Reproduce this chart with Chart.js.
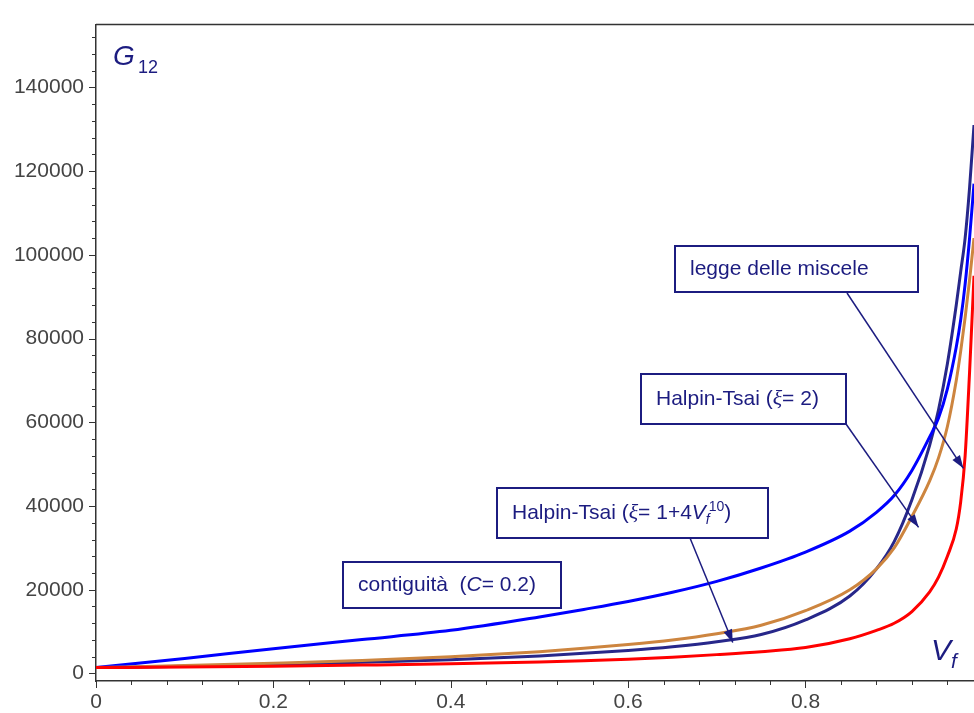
<!DOCTYPE html>
<html>
<head>
<meta charset="utf-8">
<script src="https://cdn.jsdelivr.net/npm/chart.js@4.4.1/dist/chart.umd.min.js"></script>
<style>
  html, body { margin: 0; padding: 0; background: #fff; }
  #wrap { width: 974px; height: 713px; }
</style>
</head>
<body>
<div id="wrap"><canvas id="chart" width="974" height="713"></canvas></div>
<script>
// ------------------------------------------------------------
// G12 in funzione di Vf — quattro modelli a confronto
// ------------------------------------------------------------

// frazione volumetrica di fibra (ascisse comuni)
const vf = [0, 0.1, 0.2, 0.3, 0.4, 0.5, 0.55, 0.6, 0.65, 0.7, 0.75, 0.8, 0.85, 0.88,
            0.9, 0.92, 0.94, 0.95, 0.96, 0.97, 0.975, 0.98, 0.985, 0.99];

// legge delle miscele (rosso)
const gMiscele = [1400, 1550, 1750, 2000, 2300, 2750, 3050, 3400, 3900, 4500, 5200, 6200, 8300, 10300,
                  12000, 14800, 19500, 23000, 28000, 34500, 41000, 52000, 72000, 95000];

// contiguità C = 0.2 (blu)
const gContiguita = [1400, 3600, 5900, 8100, 10300, 13500, 15300, 17200, 19400, 22000, 25200, 29000, 34000, 38500,
                     42500, 48500, 56500, 61000, 68000, 78000, 84500, 93000, 104000, 117000];

// Halpin-Tsai xi = 2 (marrone chiaro)
const gHalpin2 = [1400, 1900, 2450, 3100, 4000, 5200, 6000, 6900, 8000, 9500, 11500, 15000, 20000, 25000,
                  30000, 37500, 46000, 51500, 59000, 70000, 77000, 85000, 94000, 104000];

// Halpin-Tsai xi = 1 + 4 Vf^10 (blu scuro)
const gHalpinVar = [1400, 1700, 2100, 2650, 3300, 4200, 4800, 5500, 6400, 7600, 9300, 12800, 18500, 25000,
                    31500, 41500, 54500, 63000, 74000, 88000, 96000, 104000, 116000, 131000];

// etichette degli assi
const xTickLabels = [0, 0.2, 0.4, 0.6, 0.8];
const yTickLabels = [0, 20000, 40000, 60000, 80000, 100000, 120000, 140000];
const X_MINOR = 0.04;
const Y_MINOR = 4000;

const NAVY = '#1c1c80';
const TXT  = '21px "Liberation Sans", Arial, sans-serif';
const ITA  = 'italic 21px "Liberation Sans", Arial, sans-serif';
const XI   = 'italic 22px "Liberation Serif", serif';
const SMALL = 'italic 14px "Liberation Sans", Arial, sans-serif';
const SUP  = '14px "Liberation Sans", Arial, sans-serif';

// riquadri di commento: [x, y, w, h] in pixel, punta della freccia in coordinate dati
const callouts = [
  { box: [675, 246, 243, 46], from: [847, 293], to: [0.978, 49000],
    parts: [['legge delle miscele', TXT]] },
  { box: [641, 374, 205, 50], from: [846, 424], to: [0.9275, 34900],
    parts: [['Halpin-Tsai (', TXT], ['\u03be', XI], ['= 2)', TXT]] },
  { box: [497, 488, 271, 50], from: [690, 538], to: [0.718, 7400],
    parts: [['Halpin-Tsai (', TXT], ['\u03be', XI], ['= 1+4', TXT], ['V', ITA],
            ['f', SMALL, 5, -1], ['10', SUP, -8, 0], [')', TXT]] },
  { box: [343, 562, 218, 46], from: null, to: null,
    parts: [['contiguit\u00e0  (', TXT], ['C', ITA], ['= 0.2)', TXT]] },
];

function drawParts(ctx, parts, x, y) {
  parts.forEach(([t, font, dy = 0, dx = 0]) => {
    ctx.font = font;
    ctx.fillText(t, x, y + dy);
    x += ctx.measureText(t).width + dx;
  });
}

function drawArrow(ctx, x1, y1, x2, y2) {
  ctx.beginPath();
  ctx.moveTo(x1, y1);
  ctx.lineTo(x2, y2);
  ctx.stroke();
  const a = Math.atan2(y2 - y1, x2 - x1), L = 13, W = 4.5;
  ctx.beginPath();
  ctx.moveTo(x2, y2);
  ctx.lineTo(x2 - L * Math.cos(a) + W * Math.sin(a), y2 - L * Math.sin(a) - W * Math.cos(a));
  ctx.lineTo(x2 - L * Math.cos(a) - W * Math.sin(a), y2 - L * Math.sin(a) + W * Math.cos(a));
  ctx.closePath();
  ctx.fill();
}

const decorPlugin = {
  id: 'decor',
  afterDraw(chart) {
    const { ctx, chartArea: a, scales: { x, y } } = chart;
    ctx.save();

    // cornice superiore
    ctx.strokeStyle = '#333';
    ctx.lineWidth = 1.5;
    ctx.beginPath();
    ctx.moveTo(a.left, a.top);
    ctx.lineTo(a.right, a.top);
    ctx.stroke();

    // tacche asse x (maggiori ogni 0.2, minori ogni 0.04)
    ctx.lineWidth = 1;
    for (let i = 0; i * X_MINOR <= x.max + 1e-9; i++) {
      const px = Math.round(x.getPixelForValue(i * X_MINOR)) + 0.5;
      const len = i % 5 === 0 ? 7 : 4;
      ctx.beginPath();
      ctx.moveTo(px, a.bottom);
      ctx.lineTo(px, a.bottom + len);
      ctx.stroke();
    }
    // tacche asse y (maggiori ogni 20000, minori ogni 4000)
    for (let i = 0; i * Y_MINOR <= y.max; i++) {
      const py = Math.round(y.getPixelForValue(i * Y_MINOR)) + 0.5;
      const len = i % 5 === 0 ? 7 : 4;
      ctx.beginPath();
      ctx.moveTo(a.left - len, py);
      ctx.lineTo(a.left, py);
      ctx.stroke();
    }

    // titoli degli assi
    ctx.fillStyle = NAVY;
    ctx.textBaseline = 'alphabetic';
    ctx.font = 'italic 28px "Liberation Sans", Arial, sans-serif';
    ctx.fillText('G', 113, 65);
    ctx.font = '18px "Liberation Sans", Arial, sans-serif';
    ctx.fillText('12', 138, 73);
    ctx.font = 'italic 30px "Liberation Sans", Arial, sans-serif';
    ctx.fillText('V', 931, 660);
    ctx.font = 'italic 21px "Liberation Sans", Arial, sans-serif';
    ctx.fillText('f', 951, 668);

    // riquadri e frecce
    ctx.strokeStyle = NAVY;
    callouts.forEach((c) => {
      const [bx, by, bw, bh] = c.box;
      ctx.fillStyle = '#fff';
      ctx.fillRect(bx, by, bw, bh);
      ctx.fillStyle = NAVY;
      ctx.lineWidth = 2;
      ctx.strokeRect(bx, by, bw, bh);
      drawParts(ctx, c.parts, bx + 15, by + bh / 2 + 6);
      if (c.from) {
        ctx.lineWidth = 1.5;
        drawArrow(ctx, c.from[0], c.from[1], x.getPixelForValue(c.to[0]), y.getPixelForValue(c.to[1]));
      }
    });

    ctx.restore();
  },
};

const toPoints = (ys) => vf.map((v, i) => ({ x: v, y: ys[i] }));

const tickFont = { family: '"Liberation Sans", Arial, sans-serif', size: 21 };

new Chart(document.getElementById('chart'), {
  type: 'line',
  data: {
    datasets: [
      { label: 'legge delle miscele', data: toPoints(gMiscele), borderColor: '#ff0000' },
      { label: 'Halpin-Tsai (xi = 2)', data: toPoints(gHalpin2), borderColor: '#cd853f' },
      { label: 'contiguita (C = 0.2)', data: toPoints(gContiguita), borderColor: '#0000ff' },
      { label: 'Halpin-Tsai (xi = 1+4Vf^10)', data: toPoints(gHalpinVar), borderColor: '#27278a' },
    ],
  },
  options: {
    responsive: false,
    animation: false,
    layout: { padding: { top: 7, right: 0, bottom: 0, left: 0 } },
    elements: {
      point: { radius: 0 },
      line: { borderWidth: 3, cubicInterpolationMode: 'monotone', fill: false },
    },
    plugins: {
      legend: { display: false },
      tooltip: { enabled: false },
    },
    scales: {
      x: {
        type: 'linear',
        min: 0,
        max: 0.99,
        grid: { display: false, drawTicks: false },
        border: { display: true, color: '#333', width: 1.5 },
        ticks: {
          font: tickFont,
          color: '#444',
          padding: 9,
          maxRotation: 0,
          callback: (v) => String(Math.round(v * 10) / 10),
        },
        afterBuildTicks: (s) => { s.ticks = xTickLabels.map((v) => ({ value: v })); },
        afterFit: (s) => { s.height = 32; },
      },
      y: {
        type: 'linear',
        min: -1800,
        max: 155000,
        grid: { display: false, drawTicks: false },
        border: { display: true, color: '#333', width: 1.5 },
        ticks: {
          font: tickFont,
          color: '#444',
          padding: 12,
          callback: (v) => String(v),
        },
        afterBuildTicks: (s) => { s.ticks = yTickLabels.map((v) => ({ value: v })); },
        afterFit: (s) => { s.width = 96; },
      },
    },
  },
  plugins: [decorPlugin],
});
</script>
</body>
</html>
